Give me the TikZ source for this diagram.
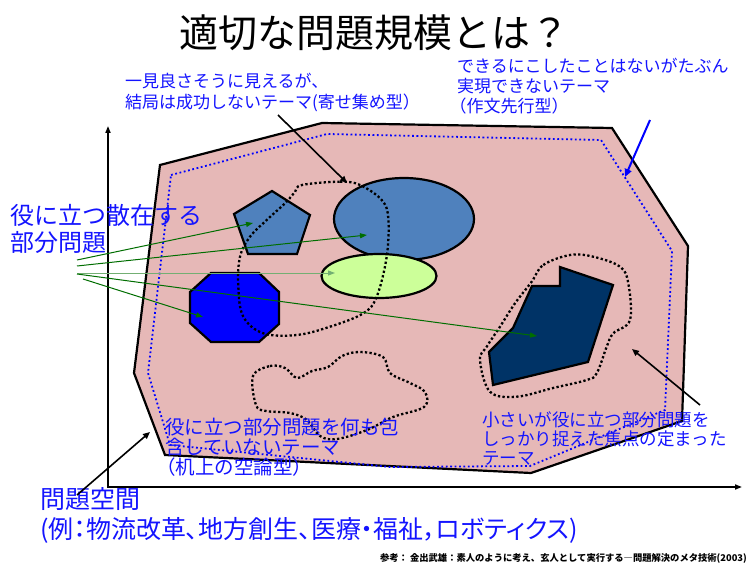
\documentclass[tikz,border=0pt]{standalone}
\usepackage{fontspec}
\newfontfamily\cjk{Noto Sans CJK JP}
\newfontfamily\cjkp[RawFeature=+palt]{Noto Sans CJK JP}
\usetikzlibrary{arrows.meta,shapes.geometric}
\definecolor{pinkfill}{RGB}{230,184,183}
\definecolor{steel}{RGB}{79,129,189}
\definecolor{lightg}{RGB}{204,255,153}
\definecolor{navyfill}{RGB}{0,51,102}
\definecolor{octblue}{RGB}{0,0,255}
\definecolor{labelblue}{RGB}{20,20,255}
\definecolor{arrgreen}{RGB}{0,110,0}
\begin{document}
\begin{tikzpicture}[x=1pt,y=-1pt,
  lbl/.style={text=labelblue, anchor=west, align=left, inner sep=0pt},
  shapeline/.style={draw=black, line width=2.2pt, line join=miter},
  dotline/.style={draw=black, line width=2.3pt, dash pattern=on 2.3pt off 2.3pt},
  blackarrow/.style={draw=black, line width=1.6pt, -{Triangle[length=7pt,width=6pt]}},
  bluearrow/.style={draw=blue, line width=2pt, -{Triangle[length=8pt,width=7pt]}},
  greenarrow/.style={draw=arrgreen, line width=1pt, -{Triangle[length=7pt,width=5pt]}},
  axisline/.style={draw=black, line width=1.6pt},
]
\useasboundingbox (0,0) rectangle (749,564);
\fill[white] (0,0) rectangle (749,564);

% title
\node[inner sep=0pt, font=\cjk\fontsize{39}{39}\selectfont] (title) at (374,33) {適切な問題規模とは？};

% axes
\coordinate (origin) at (108,487);
\coordinate (ytop) at (108,126);
\coordinate (xend) at (742,487);
\draw[axisline, {Triangle[length=7pt,width=5pt]}-{Triangle[length=7pt,width=5pt]}] (ytop) -- (origin) -- (xend);

% problem space
\filldraw[fill=pinkfill, draw=black, line width=2.2pt, line join=miter]
  (160,165) -- (322,123) -- (612,128) -- (688,246) -- (682,421) -- (531,473) -- (165,455) -- (134,373) -- cycle;
\draw[draw=blue, line width=1.8pt, dash pattern=on 1.8pt off 2.6pt]
  (171,175) -- (327,134) -- (601,140) -- (672,251) -- (665,410) -- (530,466) -- (390,467) -- (170,445) -- (148,373) -- cycle;

% shapes
\filldraw[fill=steel, shapeline] (272,191) -- (310,215) -- (297,254) -- (248,254) -- (234,214) -- cycle;
\node[ellipse, draw=black, line width=2.2pt, fill=steel, minimum width=140pt, minimum height=82pt, inner sep=0pt] (bigell) at (404,219) {};
\node[ellipse, draw=black, line width=2.2pt, fill=lightg, minimum width=115pt, minimum height=44pt, inner sep=0pt] (greenell) at (379,276) {};
\filldraw[fill=octblue, shapeline] (211,273) -- (259,273) -- (279,292) -- (279,324) -- (259,342) -- (211,342) -- (190,323) -- (190,292) -- cycle;
\filldraw[fill=navyfill, shapeline] (560,267) -- (613,285) -- (588,362) -- (493,385) -- (489,352) -- (513,328) -- (532,286) -- (560,286) -- cycle;

% dotted regions
\draw[dotline] plot[smooth cycle, tension=0.6] coordinates {(302,185) (340,181.7) (360,185) (381.7,200) (388.3,218.3) (386.7,256.7) (376.7,296.7) (363.3,313.3) (330,326.7) (296.7,335) (263.3,333.3) (243.3,316.7) (238.3,286.7) (240,256.7) (250,236.7) (266.7,220) (285,203.3) (295,192)};
\draw[dotline] plot[smooth cycle, tension=0.6] coordinates {(253,376) (270,366) (285,368) (297,378) (312,371) (328,367) (342,356) (360,352) (383,357) (390,373) (410,383) (425,392) (424,407) (393,417) (367,430) (337,439) (320,436) (307,420) (290,413) (266,411) (256,405)};
\draw[dotline] plot[smooth cycle, tension=0.6] coordinates {(531.7,281.7) (543.3,265) (570,255) (593.3,256.7) (620,266.7) (628.3,283.3) (630,320) (613.3,333.3) (606.7,346.7) (596.7,373.3) (586.7,380) (553,388) (516.7,396.7) (490,391.7) (480,360) (486.7,346.7) (500,326.7) (515,303.3)};

% labels
\node[lbl, font=\cjk\fontsize{17}{21}\selectfont] (lblA) at (125,92) {一見良さそうに見えるが、\\結局は成功しないテーマ(寄せ集め型）};
\node[lbl, font=\cjk\fontsize{17}{20}\selectfont] (lblB) at (457,86) {できるにこしたことはないがたぶん\\実現できないテーマ\\\hspace*{-0.45em}（作文先行型）};
\node[lbl, font=\cjk\fontsize{24}{27}\selectfont] (lblC) at (10,229) {役に立つ散在する\\部分問題};
\node[lbl, font=\cjk\fontsize{19.5}{20}\selectfont] (lblD) at (165,447) {役に立つ部分問題を何も包\\含していないテーマ\\\hspace*{-0.45em}（机上の空論型）};
\node[lbl, font=\cjk\fontsize{17.5}{19}\selectfont] (lblE) at (482,439) {小さいが役に立つ部分問題を\\しっかり捉えた焦点の定まった\\テーマ};
\node[lbl, font=\cjkp\fontsize{25}{30}\selectfont] (lblF) at (40,515) {問題空間\\(例：物流改革、地方創生、医療・福祉，ロボティクス)};
\node[anchor=east, inner sep=0pt, font=\cjk\bfseries\fontsize{9.3}{9.3}\selectfont] (ref) at (747,558) {参考： 金出武雄：素人のように考え、玄人として実行する―問題解決のメタ技術(2003)};

% black arrows
\coordinate (aAs) at (278,115); \coordinate (aAe) at (347,183);
\draw[blackarrow] (aAs) -- (aAe);
\coordinate (aEs) at (700,405); \coordinate (aEe) at (632,349);
\draw[blackarrow] (aEs) -- (aEe);
\coordinate (aFs) at (77,495); \coordinate (aFe) at (150,432);
\draw[blackarrow] (aFs) -- (aFe);
\coordinate (aBs) at (650,120); \coordinate (aBe) at (625,177);
\draw[bluearrow] (aBs) -- (aBe);

% green arrows
\coordinate (f1) at (77,260); \coordinate (f2) at (77,266); \coordinate (f3) at (77,273);
\coordinate (f4) at (77,274); \coordinate (f5) at (83,279);
\coordinate (tPent) at (253,223); \coordinate (tBig) at (367,235); \coordinate (tGreen) at (335,273);
\coordinate (tNavy) at (537,336); \coordinate (tOct) at (203,317);
\draw[greenarrow] (f1) -- (tPent);
\draw[greenarrow] (f2) -- (tBig);
\draw[greenarrow, draw=arrgreen!55] (f3) -- (tGreen);
\draw[greenarrow] (f4) -- (tNavy);
\draw[greenarrow] (f5) -- (tOct);
\end{tikzpicture}
\end{document}
